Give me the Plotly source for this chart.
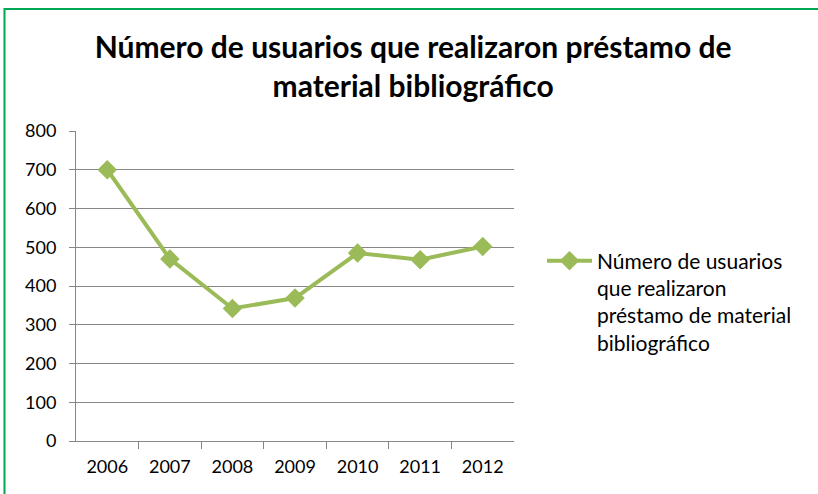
import plotly.graph_objects as go

years = ["2006", "2007", "2008", "2009", "2010", "2011", "2012"]
usuarios = [700, 470, 342, 369, 485, 468, 502]
series_name = "Número de usuarios<br>que realizaron<br>préstamo de material<br>bibliográfico"
title_text = "<b>Número de usuarios que realizaron préstamo de<br>material bibliográfico</b>"

FONT = "Lato"
color = "#9BBB59"

fig = go.Figure()
fig.add_trace(go.Scatter(
    x=years, y=usuarios, mode="lines+markers", name=series_name,
    line=dict(color=color, width=4),
    marker=dict(symbol="diamond", size=15, color=color),
))

L, R, T, B = 76, 304, 131, 53
W, H = 818, 494
pw, ph = W - L - R, H - T - B

fig.update_layout(
    width=W, height=H,
    margin=dict(l=L, r=R, t=T, b=B),
    paper_bgcolor="white", plot_bgcolor="white",
    font=dict(family=FONT, size=18, color="#000000"),
    title=dict(text=title_text, x=0.505, xanchor="center", y=1 - 58 / H, yanchor="middle",
               font=dict(family=FONT, size=30, color="#000000")),
    showlegend=True,
    legend=dict(x=(542 - L) / pw, xanchor="left", y=(441 - 302) / ph, yanchor="middle",
                valign="top",
                font=dict(family=FONT, size=21, color="#000000"),
                bgcolor="rgba(0,0,0,0)", itemwidth=45, tracegroupgap=0),
    xaxis=dict(showgrid=False, showline=True, linecolor="#868686", linewidth=1,
               ticks="outside", ticklen=7, tickcolor="#868686", tickson="boundaries",
               tickfont=dict(family=FONT, size=18), ticklabelstandoff=9, fixedrange=True),
    yaxis=dict(range=[0, 800], dtick=100, showgrid=True, gridcolor="#868686", gridwidth=1,
               showline=True, linecolor="#868686", linewidth=1, zeroline=False,
               ticks="outside", ticklen=6, tickcolor="#868686",
               tickfont=dict(family=FONT, size=18), ticklabelstandoff=9, fixedrange=True),
    shapes=[dict(type="rect", xref="paper", yref="paper",
                 x0=(4.5 - L) / pw, x1=(830 - L) / pw,
                 y0=(441 - 510) / ph, y1=(441 - 9) / ph,
                 line=dict(color="#00A651", width=2), fillcolor="rgba(0,0,0,0)", layer="below")],
)

fig.write_html("out.html", config={"displayModeBar": False},
               post_script="document.body.style.margin='0';document.body.style.padding='0';")
